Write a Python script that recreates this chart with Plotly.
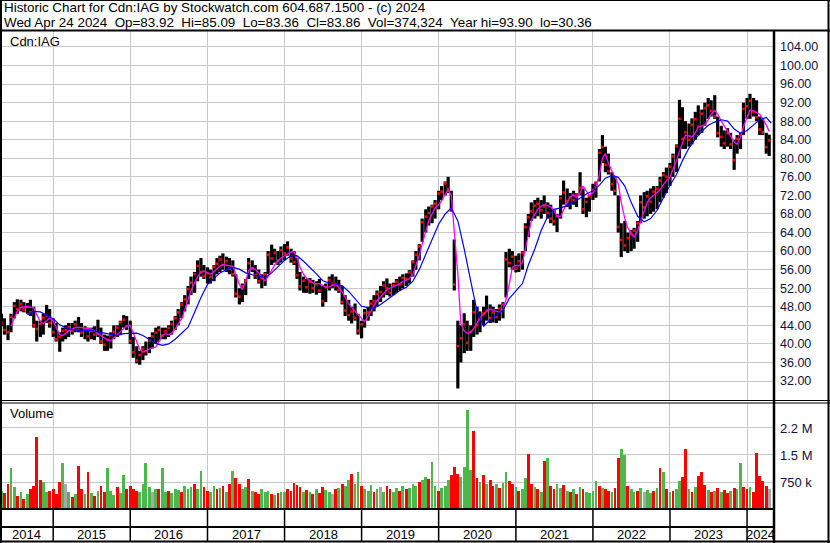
import plotly.graph_objects as go
import pandas as pd

W, H = 830, 543

# ---------------- data (semi-monthly bars) ----------------
bar_dates = pd.date_range('2014-05-01', periods=240, freq='SMS')

price_low = [
    43.8, 42.0, 40.8, 42.5, 45.5, 46.5, 47.0, 46.8, 46.5, 46.0, 43.5, 40.5, 41.5, 42.0, 44.5, 43.5,
    41.5, 40.5, 38.3, 40.5, 41.0, 41.5, 42.0, 42.5, 42.5, 41.5, 41.0, 40.5, 41.0, 40.8, 41.5, 40.0, 38.5, 38.5, 39.0, 41.0, 41.5, 42.0, 43.5, 43.0,
    40.0, 37.0, 35.8, 35.5, 36.5, 37.5, 38.0, 39.0, 40.0, 40.5, 41.0, 41.0, 41.5, 42.0, 43.0, 44.0, 45.5, 47.0, 48.5, 50.5, 51.0, 53.5, 54.5, 54.0,
    53.0, 53.0, 53.5, 55.0, 55.5, 56.0, 55.5, 55.0, 54.5, 50.0, 48.5, 49.0, 50.5, 54.0, 55.5, 54.0, 53.0, 52.0, 52.5, 55.0, 57.0, 57.5, 57.0, 57.5,
    58.0, 59.0, 57.5, 57.0, 54.0, 51.5, 51.0, 51.0, 50.8, 51.0, 50.6, 51.0, 48.0, 49.0, 51.5, 52.0, 51.5, 51.0, 48.5, 46.0, 45.0, 44.4, 45.0, 42.0,
    41.2, 43.5, 45.0, 46.0, 47.0, 48.0, 49.0, 50.0, 50.5, 50.2, 50.5, 51.0, 51.5, 52.0, 52.5, 53.0, 54.5, 56.0, 58.0, 62.0, 64.0, 65.5, 66.0, 67.0,
    69.0, 71.0, 72.0, 72.5, 68.5, 51.5, 30.4, 36.0, 38.0, 38.5, 38.5, 41.5, 42.0, 42.5, 44.0, 45.0, 44.5, 44.6, 44.5, 45.0, 45.5, 50.0, 56.5, 56.0,
    55.4, 55.5, 56.0, 60.0, 63.0, 66.5, 67.0, 67.5, 67.0, 68.0, 67.0, 66.0, 65.5, 64.1, 67.0, 70.0, 69.5, 69.0, 70.0, 69.5, 72.0, 68.0, 67.3, 68.5,
    71.0, 71.5, 75.0, 79.0, 77.0, 76.5, 73.0, 72.0, 64.0, 58.7, 60.0, 59.6, 60.0, 60.5, 62.0, 66.0, 67.0, 67.5, 68.0, 68.5, 69.0, 70.5, 71.5, 72.5,
    74.0, 76.0, 77.0, 80.0, 82.0, 82.0, 82.5, 83.0, 84.0, 85.0, 85.5, 87.0, 88.5, 89.0, 88.5, 84.5, 82.5, 82.0, 82.5, 82.0, 77.5, 81.0, 82.0, 85.0,
    88.5, 88.5, 89.0, 88.0, 85.0, 85.0, 81.0, 80.5,
]
price_high = [
    46.5, 45.5, 44.0, 46.5, 49.0, 49.6, 49.5, 49.0, 48.8, 49.5, 48.0, 45.0, 45.0, 46.5, 48.4, 47.5,
    45.5, 44.5, 42.5, 43.5, 44.0, 44.5, 44.5, 45.0, 45.8, 44.5, 43.8, 43.5, 43.5, 43.8, 45.2, 43.5, 42.0, 41.8, 42.5, 44.0, 44.0, 45.0, 46.2, 46.0,
    45.0, 41.5, 39.5, 38.5, 39.5, 40.5, 41.5, 42.5, 43.5, 43.8, 43.5, 43.5, 44.0, 45.0, 46.0, 47.5, 49.0, 50.5, 52.5, 54.5, 55.5, 58.0, 58.5, 57.0,
    56.5, 56.0, 57.0, 58.5, 59.0, 59.5, 58.8, 58.5, 58.0, 55.0, 52.0, 53.0, 54.0, 58.5, 58.0, 57.0, 56.0, 55.0, 55.5, 60.0, 61.4, 60.5, 60.0, 61.0,
    61.5, 62.1, 60.5, 60.0, 58.5, 55.5, 54.5, 54.0, 54.2, 53.8, 53.5, 54.0, 52.5, 53.0, 54.5, 55.0, 54.5, 53.8, 52.5, 50.5, 49.5, 48.0, 48.7, 46.5,
    45.0, 47.5, 48.0, 49.5, 50.5, 51.5, 52.5, 53.5, 54.1, 53.0, 53.2, 54.0, 54.5, 55.0, 55.2, 55.9, 58.0, 60.0, 61.5, 67.0, 69.0, 69.6, 70.0, 71.0,
    73.0, 74.0, 75.0, 76.0, 73.0, 62.5, 45.0, 44.0, 46.6, 45.0, 44.0, 49.5, 48.0, 47.0, 48.0, 50.4, 48.5, 48.0, 47.5, 48.5, 49.0, 59.8, 60.5, 60.0,
    59.0, 59.5, 60.0, 66.0, 68.0, 70.5, 71.0, 71.5, 71.0, 72.0, 70.5, 70.0, 69.0, 68.0, 72.0, 75.2, 73.5, 72.5, 73.0, 72.5, 77.0, 73.5, 71.5, 72.0,
    74.5, 75.0, 82.0, 85.0, 82.5, 81.0, 77.0, 76.0, 72.0, 66.0, 66.5, 64.0, 64.5, 65.0, 66.5, 72.0, 72.7, 73.0, 73.5, 74.0, 74.0, 76.0, 77.0, 78.0,
    79.0, 81.0, 83.0, 92.6, 91.0, 88.0, 87.5, 88.6, 90.0, 91.4, 90.5, 92.0, 93.0, 92.5, 93.6, 89.0, 87.0, 86.0, 86.5, 85.5, 84.0, 85.0, 85.5, 92.0,
    93.0, 93.9, 93.0, 92.5, 89.0, 88.5, 85.5, 85.09,
]
price_close = [
    44.5, 43.0, 42.5, 45.8, 48.2, 47.5, 48.6, 47.4, 48.0, 46.8, 44.0, 43.2, 44.3, 45.6, 46.0, 44.5,
    42.5, 41.0, 41.5, 42.8, 43.0, 43.6, 42.8, 44.2, 43.0, 42.4, 43.1, 41.6, 42.7, 42.0, 42.2, 40.5, 39.8, 40.9, 41.9, 42.6, 43.5, 44.6, 45.2, 43.8,
    40.6, 38.2, 36.4, 37.6, 38.9, 38.4, 40.7, 41.6, 42.4, 43.0, 41.8, 42.7, 43.4, 44.3, 45.5, 46.8, 48.5, 49.6, 51.8, 53.2, 55.0, 56.8, 55.5, 54.6,
    55.2, 54.4, 56.6, 57.3, 58.2, 57.0, 57.8, 56.2, 55.0, 50.8, 50.2, 52.4, 53.6, 57.4, 56.2, 54.8, 53.5, 54.2, 55.0, 59.2, 58.4, 59.6, 58.0, 60.2,
    59.5, 60.8, 58.4, 57.6, 54.8, 52.4, 53.6, 52.2, 53.4, 52.0, 52.8, 51.5, 49.2, 52.2, 53.8, 53.0, 52.6, 51.6, 49.0, 47.2, 46.2, 47.0, 45.6, 42.8,
    44.2, 46.6, 46.8, 48.7, 49.2, 50.8, 51.2, 52.6, 52.0, 51.0, 52.6, 53.4, 52.8, 54.2, 54.0, 55.4, 57.6, 59.2, 61.0, 66.2, 67.4, 68.2, 69.6, 70.2,
    72.4, 72.8, 74.6, 73.4, 69.0, 52.8, 39.5, 41.2, 44.2, 40.2, 42.6, 46.8, 44.0, 45.4, 46.6, 47.2, 45.6, 46.8, 45.8, 47.6, 48.5, 58.2, 57.4, 58.8,
    56.2, 57.8, 59.6, 65.2, 67.3, 68.6, 69.8, 70.2, 68.8, 69.6, 68.2, 67.0, 66.4, 67.5, 71.4, 72.6, 70.8, 71.6, 71.0, 72.2, 73.6, 69.0, 70.6, 71.8,
    73.2, 74.6, 81.2, 82.4, 78.6, 77.2, 74.4, 73.0, 65.2, 62.4, 61.2, 62.8, 63.6, 64.4, 66.0, 70.5, 69.4, 71.8, 70.6, 72.8, 73.4, 75.2, 76.4, 76.0,
    78.2, 80.4, 82.6, 88.5, 84.2, 85.6, 84.0, 87.2, 88.4, 86.8, 89.6, 90.8, 91.4, 90.2, 89.0, 85.4, 84.6, 83.2, 85.4, 83.0, 79.6, 84.2, 85.0, 90.6,
    91.2, 92.4, 90.0, 88.8, 86.2, 85.6, 82.4, 83.86,
]
ma_short = [
    None, None, None, 43.8, 45.5, 47.0, 47.9, 48.0, 48.0, 47.9, 47.8, 46.3, 44.8, 44.3, 45.0, 45.6,
    45.0, 43.5, 42.0, 41.8, 42.3, 42.8, 43.2, 43.5, 43.6, 43.5, 43.3, 43.2, 43.2, 42.8, 42.2, 41.8, 41.2, 40.8, 40.7, 41.3, 42.2, 42.8, 43.4, 43.9,
    44.0, 42.5, 40.5, 38.8, 38.2, 38.5, 39.0, 39.2, 39.3, 40.5, 41.8, 42.2, 42.0, 42.3, 43.2, 44.3, 45.5, 47.3, 49.5, 51.5, 53.2, 54.5, 55.4, 55.7,
    55.3, 55.0, 55.6, 56.3, 56.8, 57.1, 57.0, 56.9, 56.7, 55.0, 52.8, 51.7, 53.5, 55.8, 56.5, 56.0, 55.3, 54.2, 53.6, 54.5, 56.0, 57.0, 57.8, 58.5,
    59.0, 59.3, 59.8, 59.8, 58.5, 56.5, 55.0, 54.2, 53.6, 53.1, 53.0, 53.0, 52.6, 52.2, 52.3, 52.7, 53.0, 52.2, 51.2, 50.0, 48.6, 47.8, 47.0, 46.3,
    45.3, 44.8, 46.0, 47.3, 48.3, 49.3, 50.2, 51.0, 51.6, 52.0, 52.3, 52.7, 53.0, 53.4, 53.7, 54.0, 55.0, 56.8, 59.0, 61.5, 64.0, 66.5, 68.0, 69.3,
    70.0, 70.8, 72.2, 73.2, 72.0, 64.0, 55.0, 44.4, 42.8, 42.3, 42.5, 43.3, 44.5, 45.6, 46.3, 47.0, 47.5, 47.3, 47.0, 46.8, 47.5, 49.5, 53.0, 56.5,
    56.9, 56.8, 57.5, 60.5, 63.5, 66.5, 68.0, 69.0, 69.7, 70.0, 69.8, 69.5, 68.8, 67.5, 67.5, 69.0, 70.5, 71.6, 72.2, 71.5, 72.5, 74.0, 73.0, 72.0,
    72.5, 73.8, 76.5, 80.0, 81.0, 79.0, 77.2, 76.0, 74.5, 70.5, 67.0, 65.0, 64.0, 63.0, 64.5, 66.5, 68.5, 70.5, 71.5, 72.0, 72.5, 73.2, 74.3, 75.2,
    76.0, 77.5, 79.5, 81.5, 83.5, 85.0, 84.8, 84.6, 85.5, 86.7, 87.0, 87.2, 88.3, 89.5, 90.3, 89.5, 88.0, 87.0, 85.8, 84.8, 83.5, 83.0, 84.5, 86.8,
    89.0, 90.4, 90.2, 89.9, 89.5, 88.5, 87.2, 85.8,
]
volume_k = [
    520, 450, 700, 1140, 620, 380, 480, 300, 420, 560, 640, 2000, 820, 760, 480, 520,
    580, 420, 760, 1280, 700, 480, 350, 420, 1220, 560, 430, 1030, 470, 380, 520, 640, 480, 1140, 520, 400, 620, 460, 970, 560,
    640, 580, 520, 480, 700, 1280, 620, 500, 580, 560, 1140, 480, 520, 460, 580, 540, 480, 650, 560, 620, 700, 560, 1060, 620,
    520, 480, 640, 560, 600, 640, 500, 700, 1080, 880, 720, 560, 620, 860, 520, 480, 420, 560, 480, 520, 440, 400, 460, 500,
    480, 560, 520, 750, 680, 620, 480, 540, 500, 420, 560, 460, 620, 540, 480, 420, 560, 600, 700, 640, 820, 1000, 720, 1030,
    640, 580, 520, 680, 480, 560, 620, 500, 640, 560, 480, 600, 520, 640, 560, 600, 700, 640, 760, 820, 900, 860, 1330, 640,
    520, 600, 640, 820, 960, 1170, 1000, 900, 1170, 2750, 1100, 2170, 880, 760, 970, 720, 830, 640, 700, 600, 740, 1030, 780, 720,
    620, 520, 560, 880, 1530, 700, 620, 560, 500, 1360, 1420, 640, 560, 720, 600, 680, 520, 480, 560, 440, 620, 580, 500, 460,
    520, 780, 640, 600, 560, 520, 480, 600, 1420, 1670, 1500, 640, 560, 480, 520, 600, 480, 540, 460, 520, 600, 1140, 1030, 560,
    480, 520, 560, 800, 890, 1690, 560, 480, 620, 940, 1030, 670, 540, 480, 520, 600, 480, 540, 460, 520, 600, 560, 1280, 620,
    560, 620, 500, 1580, 940, 780, 640, 560,
]
volume_dir = (
    "grrggrgrgrrrrggr"
    "rrrgngrgrrgrgrgrrgggrggr"
    "rrrggggngrggrgggrgggrggr"
    "rggrgrgrgrrggrgrrgggrgrg"
    "grrrrrgrgrgrrggnrgrggrgg"
    "rgggrgngrrggrgrgggrggrgg"
    "rgggrrrggggrrgrgrrgrggrr"
    "grggrrgrgrgrrggrgrgrgrgg"
    "ggrgrrgrrggrggrgnggrgrgr"
    "grggrrgrgrrrgrgrgrrgrggr"
    "rgrrrrrn"
)

# long moving average, read monthly
ma_long_dates = list(pd.date_range('2014-05-01', periods=120, freq='MS')) + [pd.Timestamp('2024-04-24')]
ma_long = [
    None, None, None, None, 46.3, 47.0, 46.9, 46.2,
    45.4, 44.1, 43.5, 43.1, 42.9, 42.9, 42.9, 42.6, 42.3, 42.0, 41.8, 42.2,
    42.3, 42.3, 41.8, 41.0, 40.1, 39.7, 40.0, 41.0, 42.3, 43.6, 46.8, 50.0,
    52.8, 54.2, 55.3, 56.0, 56.5, 56.1, 55.3, 54.9, 54.6, 54.3, 55.3, 56.6,
    58.0, 59.0, 59.0, 57.8, 56.5, 55.1, 53.6, 53.1, 52.9, 52.5, 51.3, 49.6,
    48.1, 47.8, 47.7, 48.5, 49.5, 50.6, 51.5, 52.2, 53.5, 56.0, 59.2, 62.4,
    65.8, 68.0, 69.3, 66.5, 60.5, 53.5, 47.0, 43.8, 45.2, 46.2, 47.3, 49.8,
    51.4, 53.0, 57.0, 60.5, 64.5, 67.5, 69.0, 69.3, 69.8, 70.5, 71.4, 72.3,
    73.0, 74.2, 75.7, 76.3, 75.9, 74.0, 70.5, 67.5, 66.3, 67.0, 68.8, 71.5,
    74.2, 76.5, 79.5, 82.2, 84.2, 85.8, 87.1, 87.8, 88.3, 88.0, 86.3, 85.4,
    86.0, 87.2, 88.3, 88.8, 87.6,
]

years = ['2014', '2015', '2016', '2017', '2018', '2019', '2020', '2021', '2022', '2023', '2024']
year_starts = ['2015-01-01', '2016-01-01', '2017-01-01', '2018-01-01', '2019-01-01',
               '2020-01-01', '2021-01-01', '2022-01-01', '2023-01-01', '2024-01-01']
x_start, x_end = '2014-04-24', '2024-05-03'

price_ticks = list(range(32, 105, 4))
price_tick_text = [f"{v:.2f}" for v in price_ticks]
vol_ticks = [750000, 1500000, 2250000]
vol_tick_text = ['750 k', '1.5 M', '2.2 M']

header1 = "Historic Chart for Cdn:IAG by Stockwatch.com 604.687.1500 - (c) 2024"
header2 = ("Wed Apr 24 2024  Op=83.92  Hi=85.09  Lo=83.36  Cl=83.86  "
           "Vol=374,324  Year hi=93.90  lo=30.36")
symbol_label = "Cdn:IAG"
volume_label = "Volume"

# ---------------- figure ----------------
FONT = "Liberation Sans, Arial, sans-serif"
TICKCOL = "#10103c"

def px(x):
    return x / W

def py(y):
    return 1 - y / H

PLOT_R = 773
fig = go.Figure()

# high-low bars
bx, by = [], []
for d, lo, hi in zip(bar_dates, price_low, price_high):
    bx += [d, d, None]
    by += [lo, hi, None]
fig.add_trace(go.Scatter(x=bx, y=by, mode='lines', line=dict(color='black', width=3.2),
                         hoverinfo='skip', xaxis='x', yaxis='y', showlegend=False))
# close ticks
fig.add_trace(go.Scatter(x=bar_dates, y=price_close, mode='markers',
                         marker=dict(symbol='square', size=2.6, color='#ff0000', line=dict(width=0)),
                         xaxis='x', yaxis='y', showlegend=False))
# moving averages
fig.add_trace(go.Scatter(x=bar_dates, y=ma_short, mode='lines', line=dict(color='#ff00ff', width=1.3),
                         connectgaps=False, xaxis='x', yaxis='y', showlegend=False))
fig.add_trace(go.Scatter(x=ma_long_dates, y=ma_long, mode='lines', line=dict(color='#0000ff', width=1.2),
                         connectgaps=False, xaxis='x', yaxis='y', showlegend=False))

# volume
cmap = {'g': '#4cb84c', 'r': '#ff0000', 'n': '#a8a8a8'}
fig.add_trace(go.Bar(x=bar_dates, y=[v * 1000 for v in volume_k],
                     marker=dict(color=[cmap[c] for c in volume_dir], line=dict(width=0)),
                     width=13 * 86400000, xaxis='x2', yaxis='y2', showlegend=False))

grid = '#c8c8c8'
fig.update_layout(
    width=W, height=H, margin=dict(l=0, r=0, t=0, b=0),
    paper_bgcolor='white', plot_bgcolor='white',
    font=dict(family=FONT, size=13, color='black'),
    showlegend=False, bargap=0,
    xaxis=dict(domain=[0, px(PLOT_R)], range=[x_start, x_end], type='date',
               tickvals=year_starts, showticklabels=False, ticks='',
               showgrid=True, gridcolor=grid, gridwidth=1, zeroline=False, showline=False,
               anchor='y'),
    xaxis2=dict(domain=[0, px(PLOT_R)], range=[x_start, x_end], type='date', matches='x',
                tickvals=year_starts, showticklabels=False, ticks='',
                showgrid=True, gridcolor=grid, gridwidth=1, zeroline=False, showline=False,
                anchor='y2'),
    yaxis=dict(domain=[py(400), py(31)], range=[27.905, 107.43], side='right', anchor='x',
               tickvals=price_ticks, ticktext=price_tick_text, ticks='',
               ticklabelstandoff=6,
               tickfont=dict(family=FONT, size=12.5, color=TICKCOL),
               showgrid=True, gridcolor=grid, gridwidth=1, zeroline=False, showline=False),
    yaxis2=dict(domain=[py(509), py(402.5)], range=[0, 2.958e6], side='right', anchor='x2',
                tickvals=vol_ticks, ticktext=vol_tick_text, ticks='',
                ticklabelstandoff=6,
                tickfont=dict(family=FONT, size=13, color=TICKCOL),
                showgrid=True, gridcolor=grid, gridwidth=1, zeroline=False, showline=False),
)

shapes = []
def hline(y, x0, x1, w=1):
    shapes.append(dict(type='line', xref='paper', yref='paper', x0=px(x0), x1=px(x1),
                       y0=py(y), y1=py(y), line=dict(color='black', width=w)))
def vline(x, y0, y1, w=1):
    shapes.append(dict(type='line', xref='paper', yref='paper', x0=px(x), x1=px(x),
                       y0=py(y0), y1=py(y1), line=dict(color='black', width=w)))

hline(0.5, 0, W, 1)
hline(30.5, 0, W, 2)
hline(400.5, 0, W, 1)
hline(403, 0, W, 1)
hline(509, 0, PLOT_R + 1, 2)
hline(527, 0, PLOT_R + 1, 2)
hline(541.5, 0, W, 2)
vline(1, 0, H, 2)
vline(828.5, 0, H, 2)
vline(PLOT_R + 1, 30.5, H, 2.5)
# year separators in the bottom strip
for ys in year_starts:
    shapes.append(dict(type='line', xref='x', yref='paper', x0=ys, x1=ys,
                       y0=py(541), y1=py(509), line=dict(color='black', width=1.5)))
fig.update_layout(shapes=shapes)

ann = []
NB = '\u00a0'
ann.append(dict(text=header1, xref='paper', yref='paper', x=px(1.5), y=py(8), xanchor='left',
                yanchor='middle', showarrow=False, font=dict(family=FONT, size=13.4, color='black')))
ann.append(dict(text=header2.replace('  ', NB + NB), xref='paper', yref='paper', x=px(1.5), y=py(22),
                xanchor='left', yanchor='middle', showarrow=False,
                font=dict(family=FONT, size=13.4, color='black')))
ann.append(dict(text=symbol_label, xref='paper', yref='paper', x=px(8), y=py(41.5), xanchor='left',
                yanchor='middle', showarrow=False, font=dict(family=FONT, size=13, color='black')))
ann.append(dict(text=volume_label, xref='paper', yref='paper', x=px(8), y=py(413.5), xanchor='left',
                yanchor='middle', showarrow=False, font=dict(family=FONT, size=13, color='black')))

# year labels centred in their cells
bounds = [pd.Timestamp(x_start)] + [pd.Timestamp(s) for s in year_starts] + [pd.Timestamp(x_end)]
for i, yr in enumerate(years):
    mid = bounds[i] + (bounds[i + 1] - bounds[i]) / 2
    ann.append(dict(text=yr, xref='x', yref='paper', x=mid, y=py(534.5), xanchor='center',
                    yanchor='middle', showarrow=False, font=dict(family=FONT, size=13, color='black')))
fig.update_layout(annotations=ann)

fig.write_html("out.html", config={'displayModeBar': False},
               post_script="document.body.style.margin='0';document.body.style.padding='0';"
                           "document.documentElement.style.overflow='hidden';")
